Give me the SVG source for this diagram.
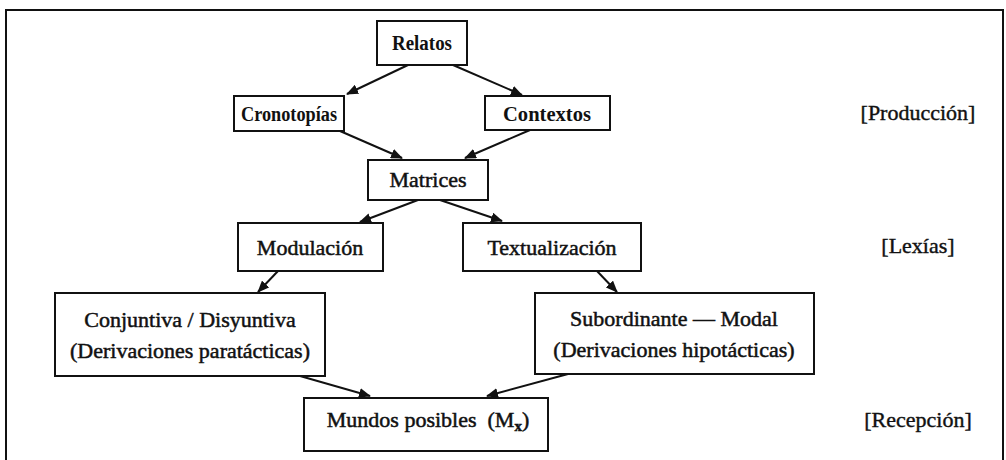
<svg xmlns="http://www.w3.org/2000/svg" width="1006" height="460" viewBox="0 0 1006 460">
<style>
.box{fill:#fff;stroke:#111;stroke-width:2}
.t{font-family:"Liberation Serif",serif;font-size:22px;fill:#111;text-anchor:middle;stroke:#111;stroke-width:0.5}
.tb{font-family:"Liberation Serif",serif;font-size:20px;font-weight:bold;fill:#111;text-anchor:middle}
.lbl{font-family:"Liberation Serif",serif;font-size:22px;fill:#111;text-anchor:middle;stroke:#111;stroke-width:0.4}
.c{stroke:#111;stroke-width:2;fill:none;marker-end:url(#ah)}
</style>
<defs>
<marker id="ah" markerWidth="12" markerHeight="10" refX="11" refY="5" orient="auto" markerUnits="userSpaceOnUse">
<path d="M0,0 L12,5 L0,10 Z" fill="#111"/>
</marker>
</defs>
<rect width="1006" height="460" fill="#fff"/>
<path d="M6,470 L6,10 L1003,10 L1003,470" fill="none" stroke="#111" stroke-width="2"/>
<g id="connectors">
<line class="c" x1="408" y1="65" x2="347" y2="94"/>
<line class="c" x1="453" y1="65" x2="522" y2="95"/>
<line class="c" x1="340" y1="131" x2="402" y2="158"/>
<line class="c" x1="530" y1="130" x2="465" y2="158"/>
<line class="c" x1="418" y1="200" x2="360" y2="222"/>
<line class="c" x1="440" y1="200" x2="502" y2="221"/>
<line class="c" x1="278" y1="271" x2="258" y2="292"/>
<line class="c" x1="597" y1="271" x2="617" y2="292"/>
<line class="c" x1="300" y1="376" x2="370" y2="396"/>
<line class="c" x1="568" y1="374" x2="487" y2="396"/>
</g>
<g id="relatos"><rect class="box" x="377" y="21" width="90" height="44"/><text class="tb" x="422" y="50" textLength="60" lengthAdjust="spacingAndGlyphs">Relatos</text></g>
<g id="cronotopias"><rect class="box" x="234" y="96" width="110" height="35"/><text class="tb" x="289" y="121" textLength="96" lengthAdjust="spacingAndGlyphs">Cronotopías</text></g>
<g id="contextos"><rect class="box" x="485" y="96" width="125" height="34"/><text class="tb" x="547" y="121" textLength="88" lengthAdjust="spacingAndGlyphs">Contextos</text></g>
<g id="matrices"><rect class="box" x="368" y="160" width="120" height="40"/><text class="t" x="428" y="187">Matrices</text></g>
<g id="modulacion"><rect class="box" x="238" y="223" width="145" height="48"/><text class="t" x="310" y="255">Modulación</text></g>
<g id="textualizacion"><rect class="box" x="463" y="223" width="178" height="48"/><text class="t" x="552" y="255">Textualización</text></g>
<g id="conjuntiva"><rect class="box" x="55" y="293" width="270" height="83"/><text class="t" x="190" y="327">Conjuntiva / Disyuntiva</text><text class="t" x="190" y="358">(Derivaciones paratácticas)</text></g>
<g id="subordinante"><rect class="box" x="535" y="293" width="279" height="81"/><text class="t" x="674" y="326">Subordinante — Modal</text><text class="t" x="674" y="357">(Derivaciones hipotácticas)</text></g>
<g id="mundos"><rect class="box" x="304" y="398" width="244" height="53"/><text class="t" x="428" y="427" xml:space="preserve">Mundos posibles  (M<tspan font-size="15" font-weight="bold" dy="4">x</tspan><tspan dy="-4">)</tspan></text></g>
<g id="labels">
<text class="lbl" x="918" y="120">[Producción]</text>
<text class="lbl" x="918" y="253">[Lexías]</text>
<text class="lbl" x="918" y="427">[Recepción]</text>
</g>
</svg>
